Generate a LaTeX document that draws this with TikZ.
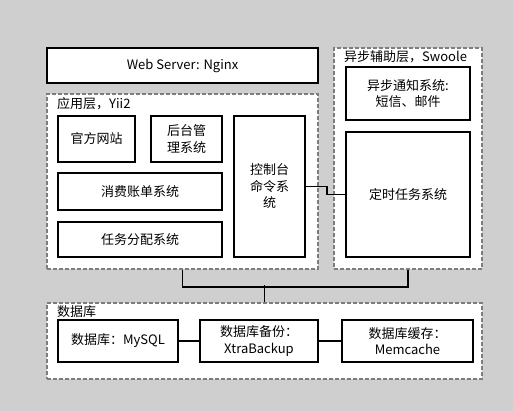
\documentclass[tikz,border=0pt]{standalone}
\usepackage{fontspec}
\newfontfamily\cjk{Noto Sans CJK SC}
\usetikzlibrary{positioning}
\definecolor{bggray}{RGB}{207,207,207}
\definecolor{dashgray}{RGB}{125,125,125}
\tikzset{
    box/.style={draw=black, line width=1.8pt, fill=white, align=center, inner sep=0pt},
    layer/.style={draw=dashgray, line width=1.3pt, dash pattern=on 4pt off 2pt, fill=white, inner sep=0pt},
    lbl/.style={anchor=west, inner sep=0pt},
    link/.style={line width=1.8pt, black}
}
\begin{document}
\begin{tikzpicture}[x=1pt, y=-1pt, font=\cjk\fontsize{13}{16.5}\selectfont]
        \fill[bggray] (0,0) rectangle (513,411);
        \useasboundingbox (0,0) rectangle (513,411);
        \node[box, minimum width=271pt, minimum height=35pt] (web) at (182.5,65.5) {Web Server: Nginx};
        \node[layer, minimum width=271pt, minimum height=175pt] (app) at (182.5,181.5) {};
        \node[layer, minimum width=148pt, minimum height=221pt] (async) at (408,158.5) {};
        \node[layer, minimum width=435pt, minimum height=76pt] (db) at (264.5,341) {};
        \node[lbl] (applbl) at (57,104) {应用层，Yii2};
        \node[lbl] (asynclbl) at (344,57) {异步辅助层，Swoole};
        \node[lbl] (dblbl) at (57,312) {数据库};
        \node[box, minimum width=77pt, minimum height=46pt] (site) at (96.5,139) {官方网站};
        \node[box, minimum width=71pt, minimum height=46pt] (admin) at (186.5,139) {后台管\\理系统};
        \node[box, minimum width=71pt, minimum height=141pt] (console) at (269.5,186.5) {控制台\\命令系\\统};
        \node[box, minimum width=164pt, minimum height=37pt] (billing) at (140,191.5) {消费账单系统};
        \node[box, minimum width=164pt, minimum height=35pt] (dispatch) at (140,239.5) {任务分配系统};
        \node[box, minimum width=124pt, minimum height=53pt] (notify) at (408,93.5) {异步通知系统:\\短信、邮件};
        \node[box, minimum width=124pt, minimum height=125pt] (cron) at (408,194.5) {定时任务系统};
        \node[box, minimum width=120pt, minimum height=42pt] (mysql) at (118,341) {数据库：MySQL};
        \node[box, minimum width=118pt, minimum height=42pt] (backup) at (259,341) {数据库备份：\\XtraBackup};
        \node[box, minimum width=131pt, minimum height=42pt] (cache) at (407.5,341) {数据库缓存：\\Memcache};
        \draw[link] (console.east) -- ++(21,0) |- (cron.west);
        \draw[link] (app.south) -- ++(0,17) -| (async.south);
        \draw[link] (db.north) -- ++(0,-17);
        \draw[link] (mysql) -- (backup);
        \draw[link] (backup) -- (cache);
    \end{tikzpicture}
\end{document}
